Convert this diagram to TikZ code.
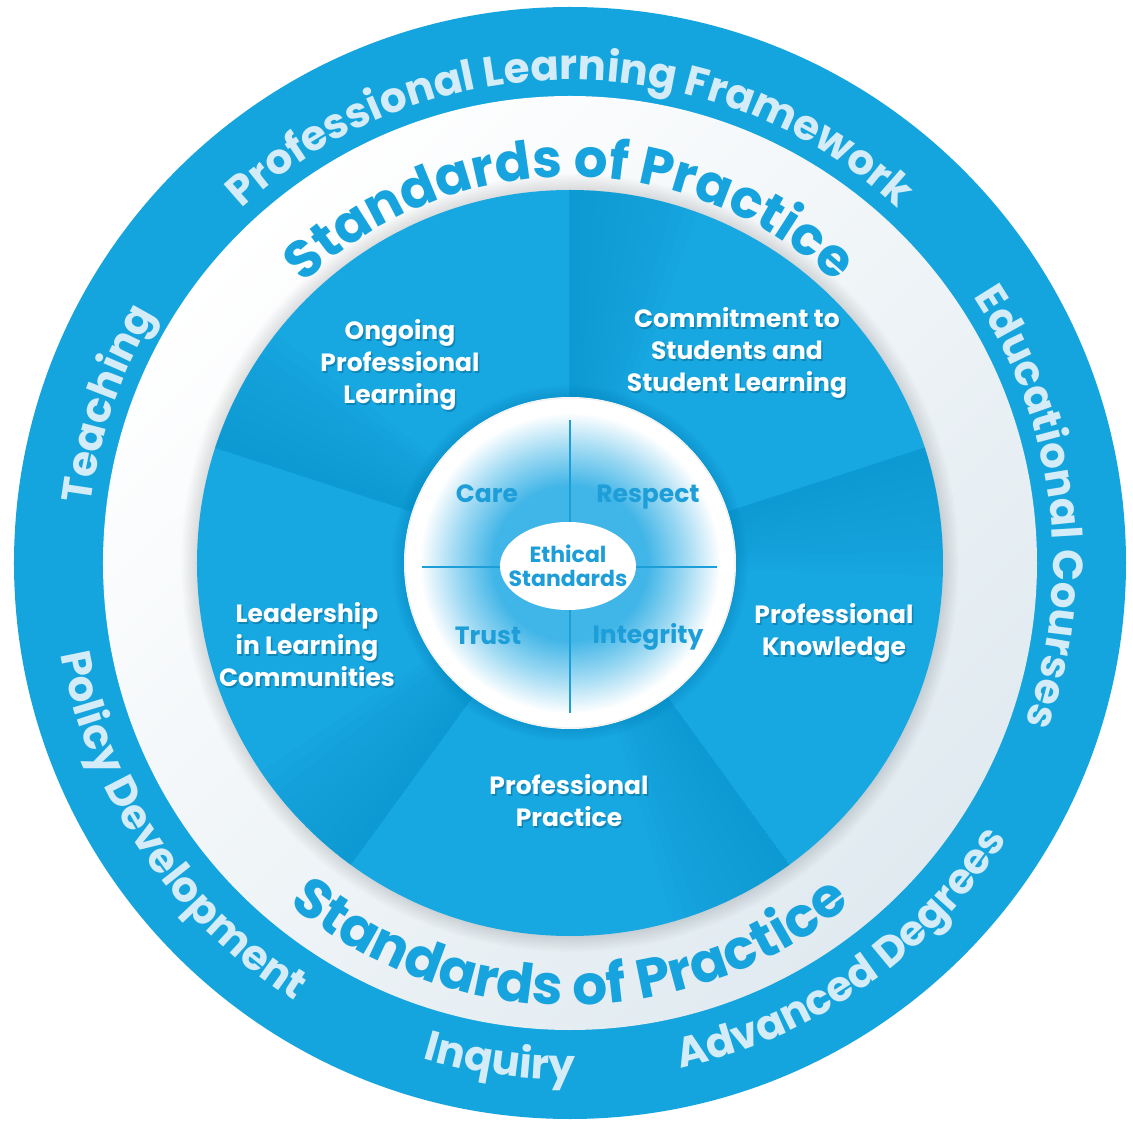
\documentclass[tikz,border=0pt]{standalone}
\usepackage{fontspec}
\setmainfont{Poppins}
\usetikzlibrary{decorations.text,shapes.geometric}
\definecolor{ringblue}{HTML}{14A5DF}
\definecolor{discblue}{HTML}{17A7E1}
\definecolor{shadeblue}{HTML}{0678B0}
\definecolor{ringtext}{HTML}{D3ECF8}
\definecolor{sopblue}{HTML}{17A3DD}
\definecolor{btnblue}{HTML}{1E9ED8}
\definecolor{glow}{HTML}{40B5E7}
\definecolor{ringgrey}{HTML}{E0EAF0}
\pgfdeclareradialshading{btnshade}{\pgfpoint{0bp}{0bp}}{color(0bp)=(glow); color(12bp)=(glow); color(18bp)=(glow!50!white); color(23.5bp)=(white); color(50bp)=(white)}
\newcommand\ringfont{\bfseries\fontsize{42}{42}\selectfont}
\newcommand\sopfonttop{\bfseries\fontsize{53}{53}\selectfont}
\newcommand\sopfontbot{\bfseries\fontsize{55}{55}\selectfont}
\newcommand\seclab[3]{%
  \node[secshadow, xshift=1.5pt, yshift=-2pt] (#1-sh) at #2 {#3};
  \node[seclabel] (#1) at #2 {#3};}
\tikzset{
  outertext/.style={decorate, decoration={text along path, text align=center, text color=ringtext, text={|\ringfont\color{ringtext}|#1}}},
  soptexttop/.style={decorate, decoration={text along path, text align=center, text color=sopblue, text={|\sopfonttop\color{sopblue}|#1}}},
  soptextbot/.style={decorate, decoration={text along path, text align=center, text color=sopblue, text={|\sopfontbot\color{sopblue}|#1}}},
  seclabel/.style={text=white, font=\bfseries\fontsize{25}{32}\selectfont, align=center, inner sep=0pt},
  secshadow/.style={text=shadeblue!70!black, text opacity=0.4, font=\bfseries\fontsize{25}{32}\selectfont, align=center, inner sep=0pt},
  btnlabel/.style={text=btnblue, font=\bfseries\fontsize{25}{28}\selectfont, inner sep=0pt},
}
\begin{document}
\begin{tikzpicture}[x=1pt,y=1pt]
\fill[white] (-570,-561) rectangle (563,563);
\useasboundingbox (-570,-561) rectangle (563,563);
% outer blue ring
\fill[ringblue] (0,0) circle (556);
% white ring
\shade[top color=white, bottom color=ringgrey, shading angle=45] (0,0) circle (467);
% shadow of the inner disc
\foreach \k in {1,...,10} \fill[black,opacity=0.012] (0,0) circle ({373+1.6*\k});
% inner disc
\fill[discblue] (0,0) circle (373);
\begin{scope}
\clip (0,0) circle (373);
\foreach \a in {90,18,-54,-126,162}{
  \foreach \k in {1,...,10}{
    \fill[shadeblue,opacity=0.022] (0,0) -- (\a:380) arc[start angle=\a, end angle={\a-2*\k}, radius=380] -- cycle;
  }
}
\end{scope}
% outer ring texts
\path[outertext={Professional Learning Framework}] (170:483) arc[start angle=170, end angle=10, radius=483];
\path[outertext={Teaching}] (191:483) arc[start angle=191, end angle=131, radius=483];
\path[outertext={Educational Courses}] (57:483) arc[start angle=57, end angle=-43, radius=483];
\path[outertext={Policy Development}] (169:517) arc[start angle=169, end angle=259, radius=517];
\path[outertext={Inquiry}] (242:517) arc[start angle=242, end angle=282, radius=517];
\path[outertext={Advanced Degrees}] (275:517) arc[start angle=275, end angle=335, radius=517];
% standards of practice
\path[soptexttop={Standards of Practice}] (170:386) arc[start angle=170, end angle=10, radius=386];
\path[soptextbot={Standards of Practice}] (200:442) arc[start angle=200, end angle=340, radius=442];
% sector labels
\seclab{ongoing}{(-170,198)}{Ongoing\\Professional\\Learning}
\seclab{commit}{(167,210)}{Commitment to\\Students and\\Student Learning}
\seclab{knowledge}{(264,-70)}{Professional\\Knowledge}
\seclab{practice}{(-1,-238)}{Professional\\Practice}
\seclab{leader}{(-263,-82)}{Leadership\\in Learning\\Communities}
% central button
\foreach \k in {1,...,8} \fill[shadeblue,opacity=0.03] (0,0) circle ({166+1.5*\k});
\fill[white] (0,0) circle (166);
\shade[shading=btnshade] (0,0) circle (160);
\draw[white!88!gray, line width=1.2pt] (0,0) circle (165);
\coordinate (vt) at (0,143);
\coordinate (vb) at (0,-150);
\coordinate (hl) at (-148,-4);
\coordinate (hr) at (147,-4);
\draw[btnblue, line width=2pt] (vt) -- (vb);
\draw[btnblue, line width=2pt] (hl) -- (hr);
\node[ellipse, fill=white, minimum width=136pt, minimum height=88pt, inner sep=0pt] (eth) at (-2,-3) {};
\node[text=btnblue, align=center, inner sep=0pt, font=\bfseries\fontsize{22}{24}\selectfont] (ethtext) at (eth.center) {Ethical\\Standards};
\node[btnlabel] (care) at (-83,69) {Care};
\node[btnlabel] (respect) at (78,66) {Respect};
\node[btnlabel] (trust) at (-82,-73) {Trust};
\node[btnlabel] (integrity) at (78,-74) {Integrity};
\end{tikzpicture}
\end{document}
